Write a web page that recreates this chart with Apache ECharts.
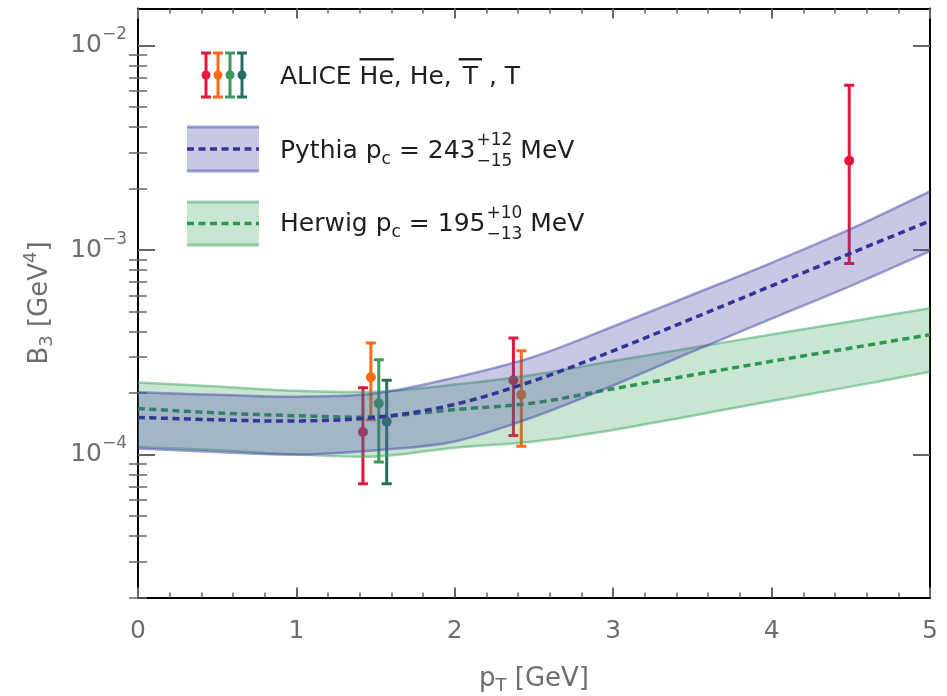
<!DOCTYPE html>
<html><head><meta charset="utf-8">
<script src="https://cdn.jsdelivr.net/npm/echarts@6/dist/echarts.min.js"></script>
<style>html,body{margin:0;padding:0;background:#fff}#c{width:947px;height:696px}</style>
</head><body><div id="c"></div>
<script>
// ---- data ----
const bandX = [0, 0.5, 1, 1.5, 2, 2.5, 3, 3.5, 4, 4.5, 5];
const pythiaMid  = [1.52e-4, 1.48e-4, 1.46e-4, 1.52e-4, 1.76e-4, 2.30e-4, 3.22e-4, 4.63e-4, 6.69e-4, 9.66e-4, 1.39e-3];
const pythiaLow  = [1.07e-4, 1.03e-4, 1.00e-4, 1.05e-4, 1.16e-4, 1.53e-4, 2.18e-4, 3.19e-4, 4.62e-4, 6.69e-4, 9.9e-4];
const pythiaHigh = [2.02e-4, 1.96e-4, 1.92e-4, 1.99e-4, 2.38e-4, 3.01e-4, 4.23e-4, 6.05e-4, 8.67e-4, 1.27e-3, 1.94e-3];
const herwigMid  = [1.68e-4, 1.60e-4, 1.55e-4, 1.53e-4, 1.66e-4, 1.79e-4, 2.10e-4, 2.45e-4, 2.86e-4, 3.32e-4, 3.86e-4];
const herwigLow  = [1.09e-4, 1.05e-4, 1.00e-4, 0.98e-4, 1.08e-4, 1.16e-4, 1.32e-4, 1.55e-4, 1.83e-4, 2.15e-4, 2.54e-4];
const herwigHigh = [2.25e-4, 2.15e-4, 2.05e-4, 2.03e-4, 2.20e-4, 2.46e-4, 2.87e-4, 3.33e-4, 3.87e-4, 4.48e-4, 5.20e-4];

const heBarX  = [1.42, 2.37, 4.49];
const heBarY  = [1.29e-4, 2.31e-4, 2.74e-3];
const heBarLo = [7.2e-5, 1.24e-4, 8.6e-4];
const heBarHi = [2.12e-4, 3.72e-4, 6.4e-3];
const heX  = [1.47, 2.42];
const heY  = [2.39e-4, 1.96e-4];
const heLo = [1.48e-4, 1.10e-4];
const heHi = [3.51e-4, 3.22e-4];
const tBarX  = [1.52];
const tBarY  = [1.78e-4];
const tBarLo = [9.2e-5];
const tBarHi = [2.91e-4];
const tX  = [1.57];
const tY  = [1.45e-4];
const tLo = [7.2e-5];
const tHi = [2.31e-4];

const xTickLabels = [0, 1, 2, 3, 4, 5];
const yMajorTicks = [1e-4, 1e-3, 1e-2];
const yMinorTicks = [2e-5, 3e-5, 4e-5, 5e-5, 6e-5, 7e-5, 8e-5, 9e-5,
                     2e-4, 3e-4, 4e-4, 5e-4, 6e-4, 7e-4, 8e-4, 9e-4,
                     2e-3, 3e-3, 4e-3, 5e-3, 6e-3, 7e-3, 8e-3, 9e-3];

// ---- styles ----
const FONT = 'DejaVu Sans';
const GREY = '#6e6e6e';
const TICK = '#666666';
const C_RED = '#e4163c', C_ORA = '#ff6a12', C_GRN = '#3a9a5a', C_TEAL = '#246e60';
const P_FILL = 'rgba(72,72,170,0.30)', P_EDGE = 'rgba(72,72,170,0.50)', P_DASH = '#34339a';
const H_FILL = 'rgba(60,165,95,0.28)', H_EDGE = 'rgba(60,165,95,0.50)', H_DASH = '#2e9650';

function errorBarSeries(name, xs, ys, los, his, color, z) {
  return {
    type: 'custom', name: name, z: z, clip: true, xAxisIndex: 0, yAxisIndex: 0,
    data: xs.map((x, i) => [x, ys[i], los[i], his[i]]),
    encode: { x: 0, y: [1, 2, 3] },
    renderItem: function (params, api) {
      const x = api.value(0);
      const c = api.coord([x, api.value(1)]);
      const lo = api.coord([x, api.value(2)]);
      const hi = api.coord([x, api.value(3)]);
      const hw = 5;
      const st = { stroke: color, lineWidth: 3 };
      return { type: 'group', children: [
        { type: 'line', shape: { x1: c[0], y1: hi[1], x2: c[0], y2: lo[1] }, style: st },
        { type: 'line', shape: { x1: c[0] - hw, y1: hi[1], x2: c[0] + hw, y2: hi[1] }, style: st },
        { type: 'line', shape: { x1: c[0] - hw, y1: lo[1], x2: c[0] + hw, y2: lo[1] }, style: st },
        { type: 'circle', shape: { cx: c[0], cy: c[1], r: 5 }, style: { fill: color } }
      ]};
    }
  };
}

// smooth (Catmull-Rom) path through pixel points obtained from the axes
function fmt(v) { return v.toFixed(2); }
function curveSegs(p) {
  let d = '';
  const n = p.length;
  for (let i = 0; i < n - 1; i++) {
    const p0 = p[Math.max(i - 1, 0)], p1 = p[i], p2 = p[i + 1], p3 = p[Math.min(i + 2, n - 1)];
    const c1 = [p1[0] + (p2[0] - p0[0]) / 6, p1[1] + (p2[1] - p0[1]) / 6];
    const c2 = [p2[0] - (p3[0] - p1[0]) / 6, p2[1] - (p3[1] - p1[1]) / 6];
    d += ' C' + fmt(c1[0]) + ' ' + fmt(c1[1]) + ' ' + fmt(c2[0]) + ' ' + fmt(c2[1]) + ' ' + fmt(p2[0]) + ' ' + fmt(p2[1]);
  }
  return d;
}
function openPath(p) { return 'M' + fmt(p[0][0]) + ' ' + fmt(p[0][1]) + curveSegs(p); }

function bandSeries(id, low, high, mid, fill, edge, dash, z) {
  return {
    type: 'custom', name: id, z: z, clip: true, silent: true, xAxisIndex: 0, yAxisIndex: 0,
    data: [[bandX[0], mid[0]]],
    encode: { x: 0, y: 1 },
    renderItem: function (params, api) {
      const up = bandX.map((x, i) => api.coord([x, high[i]]));
      const lo = bandX.map((x, i) => api.coord([x, low[i]]));
      const md = bandX.map((x, i) => api.coord([x, mid[i]]));
      const loRev = lo.slice().reverse();
      const fillD = openPath(up) + ' L' + fmt(loRev[0][0]) + ' ' + fmt(loRev[0][1]) + curveSegs(loRev) + ' Z';
      return { type: 'group', children: [
        { type: 'path', shape: { pathData: fillD }, style: { fill: fill, stroke: null } },
        { type: 'path', shape: { pathData: openPath(up) }, style: { fill: null, stroke: edge, lineWidth: 2.5 } },
        { type: 'path', shape: { pathData: openPath(lo) }, style: { fill: null, stroke: edge, lineWidth: 2.5 } },
        { type: 'path', shape: { pathData: openPath(md) }, style: { fill: null, stroke: dash, lineWidth: 3.5, lineDash: [7, 4.5] } }
      ]};
    }
  };
}

// ---- legend (graphic) ----
const mctx = document.createElement('canvas').getContext('2d');
function tw(t, size) { mctx.font = size + 'px "' + FONT + '"'; return mctx.measureText(t).width; }
const LF = 25, LS = 17, LCOL = '#1e1e1e';
const g = [];
function txt(t, x, y, size) {
  g.push({ type: 'text', x: x, y: y, z: 100, style: { text: t, fontSize: size, fontFamily: FONT, fill: LCOL, verticalAlign: 'middle', align: 'left' } });
}
[[206, C_RED], [218, C_ORA], [230, C_GRN], [242, C_TEAL]].forEach(function (d) {
  const st = { stroke: d[1], lineWidth: 3 };
  g.push({ type: 'line', z: 100, shape: { x1: d[0], y1: 53, x2: d[0], y2: 97 }, style: st });
  g.push({ type: 'line', z: 100, shape: { x1: d[0] - 5, y1: 53, x2: d[0] + 5, y2: 53 }, style: st });
  g.push({ type: 'line', z: 100, shape: { x1: d[0] - 5, y1: 97, x2: d[0] + 5, y2: 97 }, style: st });
  g.push({ type: 'circle', z: 100, shape: { cx: d[0], cy: 75, r: 4.5 }, style: { fill: d[1] } });
});
(function () {
  let x = 280; const y = 77;
  const parts = [['ALICE ', 0], ['He', 1], [', He, ', 0], ['T', 2], [' , T', 0]];
  parts.forEach(function (p) {
    const w = tw(p[0], LF);
    if (p[1] === 2) { x += 3; }
    txt(p[0], x, y, LF);
    if (p[1]) {
      const pad = p[1] === 2 ? 4 : 0;
      g.push({ type: 'rect', z: 100, shape: { x: x - pad, y: y - 19, width: w + 2 * pad, height: 2.5 }, style: { fill: LCOL } });
    }
    x += w + (p[1] === 2 ? 3 : 0);
  });
})();
function swatch(y0, y1, fill, edge, dash) {
  g.push({ type: 'rect', z: 100, shape: { x: 187, y: y0, width: 72, height: y1 - y0 }, style: { fill: fill } });
  g.push({ type: 'line', z: 100, shape: { x1: 187, y1: y0, x2: 259, y2: y0 }, style: { stroke: edge, lineWidth: 3 } });
  g.push({ type: 'line', z: 100, shape: { x1: 187, y1: y1, x2: 259, y2: y1 }, style: { stroke: edge, lineWidth: 3 } });
  const ym = (y0 + y1) / 2;
  g.push({ type: 'line', z: 101, shape: { x1: 187, y1: ym, x2: 259, y2: ym }, style: { stroke: dash, lineWidth: 3.5, lineDash: [7, 4.5] } });
}
function modelLine(y, name, val, up, dn) {
  let x = 280;
  const a = name + ' p';
  txt(a, x, y, LF); x += tw(a, LF);
  txt('c', x, y + 9, LS); x += tw('c', LS);
  const b = ' = ' + val;
  txt(b, x, y, LF); x += tw(b, LF) + 1;
  txt(up, x, y - 10, LS); txt(dn, x, y + 11, LS);
  x += Math.max(tw(up, LS), tw(dn, LS));
  txt(' MeV', x, y, LF);
}
swatch(127, 171, P_FILL, P_EDGE, P_DASH);
swatch(202, 245, H_FILL, H_EDGE, H_DASH);
modelLine(151, 'Pythia', '243', '+12', '\u221215');
modelLine(224, 'Herwig', '195', '+10', '\u221213');

// ---- axes ----
const YMIN = 2e-5, YMAX = 0.0152;
const axisLineBlack = { show: true, onZero: false, lineStyle: { color: '#000', width: 2 } };
function xAx(pos, labels) {
  return {
    type: 'value', min: 0, max: 5, interval: 1, position: pos,
    axisLine: axisLineBlack,
    axisTick: { show: true, inside: true, length: 10, lineStyle: { color: TICK, width: 2 } },
    minorTick: { show: true, splitNumber: 5, length: 5, lineStyle: { color: TICK, width: 1.5 } },
    splitLine: { show: false }, minorSplitLine: { show: false },
    axisLabel: labels ? {
      show: true, fontSize: 25, fontFamily: FONT, color: GREY, margin: 21,
      customValues: xTickLabels
    } : { show: false }
  };
}
function yAx(pos, ticks, len, labels, line) {
  const ax = {
    type: 'log', logBase: 10, min: YMIN, max: YMAX, position: pos,
    axisLine: line ? axisLineBlack : { show: false },
    axisTick: { show: true, inside: true, length: len, customValues: ticks, lineStyle: { color: TICK, width: len > 10 ? 2 : 1.5 } },
    minorTick: { show: false },
    splitLine: { show: false }, minorSplitLine: { show: false },
    axisLabel: { show: false }
  };
  if (labels) {
    ax.axisLabel = {
      show: true, customValues: yMajorTicks, margin: 11,
      formatter: function (v) { const e = Math.round(Math.log10(v)); return '{b|10}{s|\u2212' + (-e) + '}'; },
      rich: {
        b: { fontSize: 25, fontFamily: FONT, color: GREY },
        s: { fontSize: 17, fontFamily: FONT, color: GREY, padding: [0, 0, 22, 0] }
      }
    };
    ax.name = '{a|B}{s|3}{a| [GeV}{p|4}{a|]}';
    ax.nameLocation = 'middle';
    ax.nameRotate = 90;
    ax.nameGap = 80;
    ax.nameTextStyle = {
      rich: {
        a: { fontSize: 26, fontFamily: FONT, color: GREY },
        s: { fontSize: 18, fontFamily: FONT, color: GREY, padding: [14, 0, 0, 0] },
        p: { fontSize: 18, fontFamily: FONT, color: GREY, padding: [0, 0, 18, 0] }
      }
    };
  }
  return ax;
}
const xBottom = xAx('bottom', true);
xBottom.name = '{a|p}{s|T}{a| [GeV]}';
xBottom.nameLocation = 'middle';
xBottom.nameGap = 66;
xBottom.nameTextStyle = { rich: {
  a: { fontSize: 26, fontFamily: FONT, color: GREY },
  s: { fontSize: 18, fontFamily: FONT, color: GREY, padding: [14, 0, 0, 0] }
}};

const chart = echarts.init(document.getElementById('c'), null, { renderer: 'canvas' });
chart.setOption({
  animation: false,
  backgroundColor: '#ffffff',
  grid: { left: 138, right: 17, top: 8.5, bottom: 98.5, containLabel: false, outerBoundsMode: 'none' },
  xAxis: [xBottom, xAx('top', false)],
  yAxis: [
    yAx('left', yMajorTicks, 17, true, true),
    yAx('left', yMinorTicks, 9, false, false),
    yAx('right', yMajorTicks, 17, false, true),
    yAx('right', yMinorTicks, 9, false, false)
  ],
  series: [
    errorBarSeries('ALICE He-bar', heBarX, heBarY, heBarLo, heBarHi, C_RED, 1),
    errorBarSeries('ALICE He', heX, heY, heLo, heHi, C_ORA, 1),
    errorBarSeries('ALICE T-bar', tBarX, tBarY, tBarLo, tBarHi, C_GRN, 1),
    errorBarSeries('ALICE T', tX, tY, tLo, tHi, C_TEAL, 1),
    bandSeries('Herwig', herwigLow, herwigHigh, herwigMid, H_FILL, H_EDGE, H_DASH, 3),
    bandSeries('Pythia', pythiaLow, pythiaHigh, pythiaMid, P_FILL, P_EDGE, P_DASH, 5)
  ],
  graphic: g
});
</script>
</body></html>
